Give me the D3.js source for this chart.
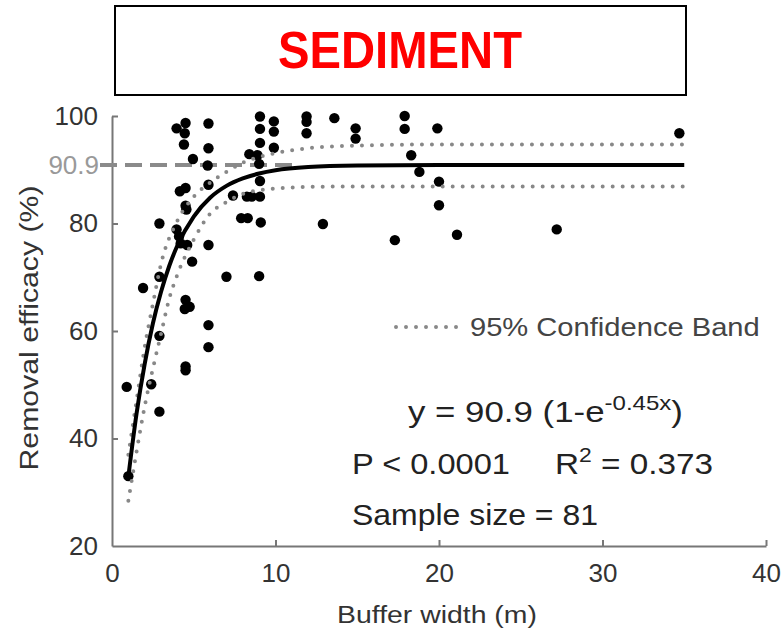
<!DOCTYPE html>
<html><head><meta charset="utf-8">
<script src="https://cdn.jsdelivr.net/npm/d3@7"></script>
<style>
body{margin:0;background:#fff;}
svg text{font-family:"Liberation Sans",Arial,sans-serif;}
</style></head>
<body><svg id="c" width="781" height="636"></svg>
<script>
// ---- data ----
const title = "SEDIMENT";
const xTicks = [0, 10, 20, 30, 40];
const yTicks = [20, 40, 60, 80, 100];
const asymptote = 90.9;
// observed points: [buffer width (m), removal efficacy (%)]
const points = [
  [0.9,49.6],[1.0,33.0],[1.9,68.0],[2.4,50.1],[2.9,80.0],[2.9,70.1],[2.9,59.1],[2.9,45.0],
  [3.95,97.7],[4.5,98.7],[4.45,96.8],[4.4,94.7],[4.95,92.0],[4.15,86.0],[4.5,86.6],[4.5,83.3],
  [4.55,82.6],[3.95,78.9],[4.1,77.6],[4.2,76.3],[4.6,76.0],[4.9,72.9],[4.5,65.8],[4.75,64.5],
  [4.45,64.1],[4.5,53.4],[4.5,52.7],[5.9,98.6],[5.9,94.0],[5.85,90.8],[5.9,87.2],[5.9,76.0],
  [5.9,61.1],[5.9,57.0],[7.0,70.1],[7.4,85.2],[7.9,81.0],[8.3,81.0],[8.25,85.0],[8.55,85.0],
  [9.05,85.0],[9.1,80.2],[9.0,70.2],[8.4,92.9],[8.9,92.7],[9.0,91.1],[9.05,87.9],[9.05,99.9],
  [9.05,97.6],[9.05,95.0],[9.9,99.0],[9.9,97.1],[9.9,94.1],[11.9,99.9],[11.9,98.9],[11.9,96.8],
  [13.6,99.6],[14.9,97.7],[14.9,95.8],[17.9,100.0],[17.9,97.6],[19.9,97.7],[18.3,92.7],[18.8,89.6],
  [20.0,87.8],[20.0,83.4],[12.9,79.9],[17.3,76.9],[21.1,77.9],[27.2,78.9],[34.7,96.8]
];
// fitted curve y = 90.9(1-e^-0.45x), sampled
const fitCurve = [
  [1,32.9],[1.5,44.6],[2,53.9],[2.5,61.4],[3,67.3],[3.5,72.1],[4,75.9],[5,81.3],[6,84.8],
  [7,87.0],[8,88.4],[9,89.3],[10,89.9],[12,90.5],[15,90.8],[20,90.9],[35,90.9]
];
// 95% confidence band
const upperBand = [
  [1,37.0],[1.5,47.0],[2,57.0],[2.5,65.0],[3,72.5],[4,80.5],[5,85.0],[6,87.6],[7,89.6],
  [8,91.3],[10,93.1],[12,94.0],[15,94.5],[20,94.7],[35,94.7]
];
const lowerBand = [
  [1,28.4],[1.5,37.5],[2,46.0],[2.5,53.0],[3,59.5],[3.5,66.0],[4,70.5],[5,77.0],[6,81.8],
  [7,84.0],[8,85.5],[10,86.5],[12,86.8],[15,86.9],[35,86.9]
];

const svg = d3.select("#c");
const x = d3.scaleLinear().domain([0, 40]).range([112, 766]);
const y = d3.scaleLinear().domain([20, 100]).range([546, 116]);
const axisCol = "#777";

// stretch a text horizontally to a target width, about its anchor point
function stretchTo(sel, ax, width) {
  const w = sel.node().getBBox().width;
  const s = width / w;
  sel.attr("transform", `translate(${ax},0) scale(${s},1) translate(${-ax},0)`);
}

// title box
svg.append("rect").attr("x", 115).attr("y", 6).attr("width", 571).attr("height", 89)
  .attr("fill", "#fff").attr("stroke", "#000").attr("stroke-width", 2);
svg.append("text").attr("x", 400).attr("y", 68).attr("text-anchor", "middle")
  .attr("fill", "#ff0000").attr("font-weight", "bold").attr("font-size", 52)
  .attr("textLength", 244).attr("lengthAdjust", "spacingAndGlyphs").text(title);

// axes
const gy = svg.append("g").attr("transform", `translate(${x(0)},0)`)
  .call(d3.axisLeft(y).tickValues(yTicks).tickSizeInner(-6).tickSizeOuter(0).tickPadding(14));
const gx = svg.append("g").attr("transform", `translate(0,${y(20)})`)
  .call(d3.axisBottom(x).tickValues(xTicks).tickSizeInner(-6).tickSizeOuter(0).tickPadding(18));
[gx, gy].forEach(g => {
  g.select(".domain").attr("stroke", axisCol).attr("stroke-width", 2);
  g.selectAll(".tick line").attr("stroke", axisCol).attr("stroke-width", 2);
  g.selectAll(".tick text").attr("fill", "#333").attr("font-size", 26);
});
gx.selectAll(".tick").filter(d => d === 0).select("line").remove();
gy.selectAll(".tick").filter(d => d === 20).select("line").remove();

// axis titles
const xt = svg.append("text").attr("x", 437).attr("y", 623).attr("text-anchor", "middle")
  .attr("fill", "#333").attr("font-size", 24).text("Buffer width (m)");
stretchTo(xt, 437, 200);
svg.append("text").attr("transform", `translate(38,328) rotate(-90)`)
  .attr("text-anchor", "middle").attr("fill", "#333").attr("font-size", 26)
  .attr("textLength", 285).attr("lengthAdjust", "spacingAndGlyphs")
  .text("Removal efficacy (%)");

// asymptote dashed line + label
svg.append("line").attr("x1", 100).attr("x2", x(11.5)).attr("y1", y(asymptote)).attr("y2", y(asymptote))
  .attr("stroke", "#8a8a8a").attr("stroke-width", 4).attr("stroke-dasharray", "17 8");
svg.append("text").attr("x", 99).attr("y", y(asymptote)).attr("dy", "0.36em")
  .attr("text-anchor", "end").attr("fill", "#999").attr("font-size", 26).text(asymptote.toFixed(1));

// points
svg.append("g").selectAll("circle").data(points).join("circle")
  .attr("cx", d => x(d[0])).attr("cy", d => y(d[1])).attr("r", 5.2).attr("fill", "#000");

const line = d3.line().x(d => x(d[0])).y(d => y(d[1])).curve(d3.curveMonotoneX);
// bands
[upperBand, lowerBand].forEach(b => {
  svg.append("path").datum(b).attr("d", line).attr("fill", "none")
    .attr("stroke", "#888").attr("stroke-width", 4).attr("stroke-linecap", "round")
    .attr("stroke-dasharray", "0 10");
});
// fit
svg.append("path").datum(fitCurve).attr("d", line).attr("fill", "none")
  .attr("stroke", "#000").attr("stroke-width", 4);

// legend
svg.append("line").attr("x1", 396).attr("x2", 462).attr("y1", 327).attr("y2", 327)
  .attr("stroke", "#888").attr("stroke-width", 4).attr("stroke-linecap", "round")
  .attr("stroke-dasharray", "0 10");
const lg = svg.append("text").attr("x", 470).attr("y", 336).attr("fill", "#444").attr("font-size", 25)
  .text("95% Confidence Band");
stretchTo(lg, 470, 290);

// annotations
const eq = svg.append("text").attr("x", 408).attr("y", 422).attr("fill", "#222").attr("font-size", 29);
eq.append("tspan").text("y = 90.9 (1-e");
eq.append("tspan").attr("font-size", 20).attr("dy", -12).text("-0.45x");
eq.append("tspan").attr("dy", 12).text(")");
stretchTo(eq, 408, 275);

const pv = svg.append("text").attr("x", 352).attr("y", 474).attr("fill", "#222").attr("font-size", 29)
  .text("P < 0.0001");
stretchTo(pv, 352, 158);
const r2 = svg.append("text").attr("x", 555).attr("y", 474).attr("fill", "#222").attr("font-size", 29);
r2.append("tspan").text("R");
r2.append("tspan").attr("font-size", 20).attr("dy", -12).text("2");
r2.append("tspan").attr("dy", 12).text(" = 0.373");
stretchTo(r2, 555, 158);

const ss = svg.append("text").attr("x", 352).attr("y", 525).attr("fill", "#222").attr("font-size", 30)
  .text("Sample size = 81");
stretchTo(ss, 352, 246);
</script></body></html>
